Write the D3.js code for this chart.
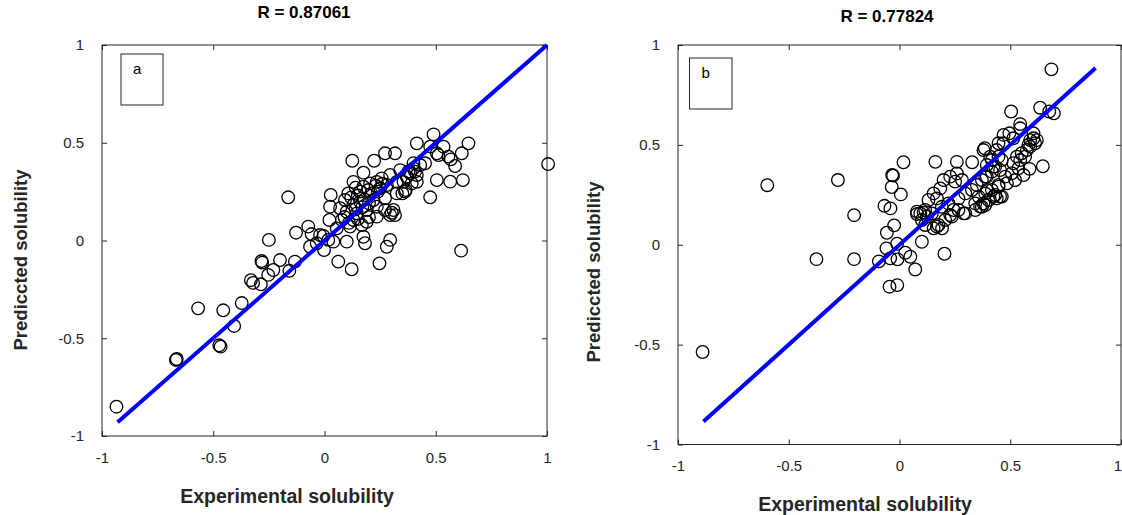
<!DOCTYPE html>
<html>
<head>
<meta charset="utf-8">
<script src="https://cdn.jsdelivr.net/npm/d3@7"></script>
<style>
  html, body { margin: 0; padding: 0; background: #fff; }
  svg { display: block; font-family: "Liberation Sans", Arial, sans-serif; }
</style>
</head>
<body>
<svg id="chart" width="1122" height="515"></svg>
<script>
// Shared tick values and labels for both axes of both panels
const tickValues = [-1, -0.5, 0, 0.5, 1];
const tickLabels = ["-1", "-0.5", "0", "0.5", "1"];

// Panel titles, tags and axis titles
const panelTitles = ["R = 0.87061", "R = 0.77824"];
const panelTags = ["a", "b"];
const xAxisTitle = "Experimental solubility";
const yAxisTitle = "Prediccted solubility";

// Regression lines (experimental, predicted)
const lineA = [[-0.93, -0.93], [1.0, 1.0]];
const lineB = [[-0.885, -0.885], [0.885, 0.885]];

// Panel a: [experimental, predicted]
const pointsA = [
  [-0.935, -0.85], [-0.668, -0.611], [-0.664, -0.606], [-0.568, -0.347], [-0.455, -0.357],
  [-0.473, -0.536], [-0.467, -0.543], [-0.406, -0.437], [-0.372, -0.32], [-0.331, -0.203],
  [-0.321, -0.217], [-0.286, -0.224], [-0.283, -0.105], [-0.28, -0.113], [-0.25, 0.003],
  [-0.253, -0.176], [-0.23, -0.151], [-0.2, -0.1], [-0.158, -0.155], [-0.133, -0.108],
  [-0.128, 0.04], [-0.163, 0.221], [-0.073, 0.071], [-0.058, 0.033], [-0.065, -0.032],
  [-0.02, 0.028], [-0.035, -0.014], [-0.005, 0.023], [-0.002, -0.049], [0.017, 0.003],
  [0.04, -0.006], [0.062, -0.108], [0.122, -0.147], [0.247, -0.117], [0.10, -0.006],
  [0.175, 0.019], [0.182, -0.014], [0.295, 0.003], [0.28, -0.032],
  [0.028, 0.233], [0.025, 0.173], [0.022, 0.105], [0.125, 0.408], [0.223, 0.408],
  [0.272, 0.446], [0.317, 0.446], [0.415, 0.497], [0.40, 0.396], [0.377, 0.352],
  [0.175, 0.347], [0.13, 0.30], [0.34, 0.36], [0.295, 0.335], [0.257, 0.318],
  [0.235, 0.30], [0.205, 0.292], [0.175, 0.275], [0.16, 0.25], [0.197, 0.258],
  [0.25, 0.267], [0.28, 0.284], [0.325, 0.30], [0.37, 0.326], [0.407, 0.352],
  [0.415, 0.30], [0.365, 0.258], [0.325, 0.241], [0.272, 0.216], [0.22, 0.207],
  [0.16, 0.198], [0.107, 0.241], [0.092, 0.207], [0.13, 0.182], [0.07, 0.165],
  [0.10, 0.147], [0.145, 0.139], [0.19, 0.156], [0.235, 0.173], [0.272, 0.156],
  [0.31, 0.156], [0.317, 0.13], [0.295, 0.13], [0.078, 0.105], [0.13, 0.105],
  [0.168, 0.079], [0.115, 0.071], [0.055, 0.062], [0.19, 0.096], [0.235, 0.122],
  [0.302, 0.142], [0.362, 0.25], [0.475, 0.221],
  [0.12, 0.22], [0.15, 0.23], [0.18, 0.21], [0.21, 0.24], [0.24, 0.25],
  [0.14, 0.16], [0.17, 0.17], [0.2, 0.19], [0.23, 0.28], [0.26, 0.29],
  [0.09, 0.12], [0.11, 0.09], [0.15, 0.11], [0.2, 0.12], [0.14, 0.27],
  [0.49, 0.543], [0.647, 0.497], [0.475, 0.48], [0.535, 0.48], [0.617, 0.446],
  [0.512, 0.437], [0.557, 0.429], [0.568, 0.415], [0.587, 0.381], [0.505, 0.309],
  [0.565, 0.301], [0.622, 0.309], [0.614, -0.052], [1.005, 0.391],
  [0.452, 0.395], [0.43, 0.386], [0.40, 0.369], [0.385, 0.343], [0.37, 0.326],
  [0.355, 0.30], [0.415, 0.335], [0.392, 0.292], [0.35, 0.241], [0.505, 0.446]
];

// Panel b: [experimental, predicted]
const pointsB = [
  [-0.889, -0.537], [-0.597, 0.298], [-0.278, 0.324], [-0.375, -0.072], [-0.205, -0.072],
  [-0.205, 0.148], [-0.093, -0.083], [-0.045, -0.21], [-0.01, -0.202], [-0.033, 0.349],
  [-0.029, 0.346], [-0.035, 0.289], [-0.068, 0.195], [-0.041, 0.182], [-0.024, 0.097],
  [-0.057, 0.06], [-0.059, -0.018], [-0.011, 0.005], [-0.042, -0.068], [-0.009, -0.073],
  [0.026, -0.04], [0.049, -0.06], [0.071, -0.124], [0.018, 0.413], [0.006, 0.252],
  [0.101, 0.015], [0.203, -0.045], [0.079, 0.154], [0.109, 0.161], [0.124, 0.141],
  [0.116, 0.099], [0.169, 0.091], [0.192, 0.082], [0.162, 0.415], [0.259, 0.415],
  [0.328, 0.413], [0.385, 0.483], [0.504, 0.667], [0.635, 0.686], [0.686, 0.878],
  [0.676, 0.667], [0.697, 0.658], [0.647, 0.393], [0.587, 0.38], [0.454, 0.241],
  [0.439, 0.232], [0.364, 0.191], [0.387, 0.199], [0.342, 0.207], [0.289, 0.157],
  [0.244, 0.174], [0.229, 0.149], [0.447, 0.508], [0.47, 0.55],
  [0.199, 0.324], [0.229, 0.341], [0.259, 0.357], [0.282, 0.324], [0.251, 0.316],
  [0.184, 0.282], [0.154, 0.257], [0.169, 0.232], [0.131, 0.224], [0.116, 0.174],
  [0.094, 0.157], [0.079, 0.166], [0.101, 0.124], [0.146, 0.157], [0.191, 0.19],
  [0.221, 0.207], [0.266, 0.232], [0.297, 0.257], [0.327, 0.274], [0.349, 0.299],
  [0.372, 0.324], [0.394, 0.341], [0.417, 0.366], [0.432, 0.391], [0.462, 0.424],
  [0.357, 0.241], [0.387, 0.257], [0.417, 0.274], [0.447, 0.299], [0.432, 0.249],
  [0.402, 0.224], [0.372, 0.19], [0.342, 0.174], [0.297, 0.157], [0.266, 0.174],
  [0.236, 0.141], [0.206, 0.124], [0.176, 0.099], [0.154, 0.082], [0.462, 0.241],
  [0.545, 0.604], [0.545, 0.583], [0.496, 0.558], [0.514, 0.533], [0.605, 0.533],
  [0.612, 0.508], [0.59, 0.491], [0.575, 0.474], [0.552, 0.458], [0.53, 0.441],
  [0.545, 0.424], [0.567, 0.441], [0.582, 0.499], [0.514, 0.408], [0.537, 0.383],
  [0.507, 0.358], [0.477, 0.341], [0.454, 0.374], [0.424, 0.391], [0.394, 0.399],
  [0.379, 0.474], [0.439, 0.474], [0.409, 0.441], [0.56, 0.349], [0.522, 0.324],
  [0.485, 0.308], [0.447, 0.291], [0.424, 0.241], [0.394, 0.274], [0.379, 0.207],
  [0.417, 0.424], [0.387, 0.341], [0.469, 0.508], [0.447, 0.441], [0.59, 0.524],
  [0.62, 0.524], [0.605, 0.558]
];

const axisColor = "#262626";
const svgWidth = 1122;
const svg = d3.select("#chart");

const panels = [
  {
    points: pointsA, line: lineA, title: panelTitles[0], tag: panelTags[0],
    left: 102, right: 547, top: 45, bottom: 436,
    titleX: 304, titleY: 18,
    xLabelX: 287, xLabelY: 503,
    yLabelX: 27, yLabelY: 260,
    tagBox: { x: 121, y: 54, w: 42, h: 51 }
  },
  {
    points: pointsB, line: lineB, title: panelTitles[1], tag: panelTags[1],
    left: 678, right: 1121, top: 45, bottom: 444.5,
    titleX: 887, titleY: 22,
    xLabelX: 865, xLabelY: 511,
    yLabelX: 600, yLabelY: 272,
    tagBox: { x: 689.5, y: 58, w: 42.5, h: 51 }
  }
];

panels.forEach(p => {
  const x = d3.scaleLinear().domain([-1, 1]).range([p.left, p.right]);
  const y = d3.scaleLinear().domain([-1, 1]).range([p.bottom, p.top]);
  const g = svg.append("g");

  const fmt = d => tickLabels[tickValues.indexOf(d)];

  // Bottom and left axes carry labels; all four sides get inward ticks
  const axes = [
    { gen: d3.axisBottom(x).tickFormat(fmt).tickPadding(16), t: `translate(0,${p.bottom})` },
    { gen: d3.axisLeft(y).tickFormat(fmt).tickPadding(18), t: `translate(${p.left},0)` },
    { gen: d3.axisTop(x).tickFormat(""), t: `translate(0,${p.top})` },
    { gen: d3.axisRight(y).tickFormat(""), t: `translate(${p.right},0)` }
  ];
  axes.forEach((a, i) => {
    const ag = g.append("g").attr("transform", a.t)
      .call(a.gen.tickValues(tickValues).tickSizeInner(-5).tickSizeOuter(0));
    ag.select(".domain").remove();
    ag.selectAll(".tick line").attr("stroke", axisColor).attr("stroke-width", 1);
    ag.selectAll(".tick text").attr("fill", axisColor)
      .style("font-size", "15px").style("font-family", "'Liberation Sans', Arial, sans-serif");
    // keep an end label that would run past the page edge inside it
    if (i === 0) {
      ag.selectAll(".tick text").each(function (d) {
        const w = this.getComputedTextLength();
        if (x(d) + w / 2 > svgWidth) {
          d3.select(this).attr("text-anchor", "end").attr("x", svgWidth - x(d) - 0.5);
        }
      });
    }
  });

  // Axes frame
  g.append("rect")
    .attr("x", p.left).attr("y", p.top)
    .attr("width", p.right - p.left).attr("height", p.bottom - p.top)
    .attr("fill", "none").attr("stroke", axisColor).attr("stroke-width", 1);

  // Data markers
  g.append("g").selectAll("circle").data(p.points).join("circle")
    .attr("cx", d => x(d[0])).attr("cy", d => y(d[1]))
    .attr("r", 6.3)
    .attr("fill", "none").attr("stroke", "#000").attr("stroke-width", 1.3);

  // Fitted line
  g.append("path")
    .datum(p.line)
    .attr("d", d3.line().x(d => x(d[0])).y(d => y(d[1])))
    .attr("stroke", "#0000ff").attr("stroke-width", 4).attr("fill", "none");

  // Tag box
  g.append("rect")
    .attr("x", p.tagBox.x).attr("y", p.tagBox.y)
    .attr("width", p.tagBox.w).attr("height", p.tagBox.h)
    .attr("fill", "#fff").attr("stroke", axisColor).attr("stroke-width", 1);
  g.append("text")
    .attr("x", p.tagBox.x + 12).attr("y", p.tagBox.y + 20)
    .attr("fill", "#000").style("font-size", "15px")
    .text(p.tag);

  // Title
  g.append("text")
    .attr("x", p.titleX).attr("y", p.titleY)
    .attr("text-anchor", "middle").attr("fill", "#000")
    .style("font-size", "17px").style("font-weight", "bold")
    .text(p.title);

  // Axis titles
  g.append("text")
    .attr("x", p.xLabelX).attr("y", p.xLabelY)
    .attr("text-anchor", "middle").attr("fill", "#262626")
    .style("font-size", "19.5px").style("font-weight", "bold")
    .text(xAxisTitle);
  g.append("text")
    .attr("transform", `translate(${p.yLabelX},${p.yLabelY}) rotate(-90)`)
    .attr("text-anchor", "middle").attr("fill", "#262626")
    .style("font-size", "18.5px").style("font-weight", "bold")
    .text(yAxisTitle);
});
</script>
</body>
</html>
